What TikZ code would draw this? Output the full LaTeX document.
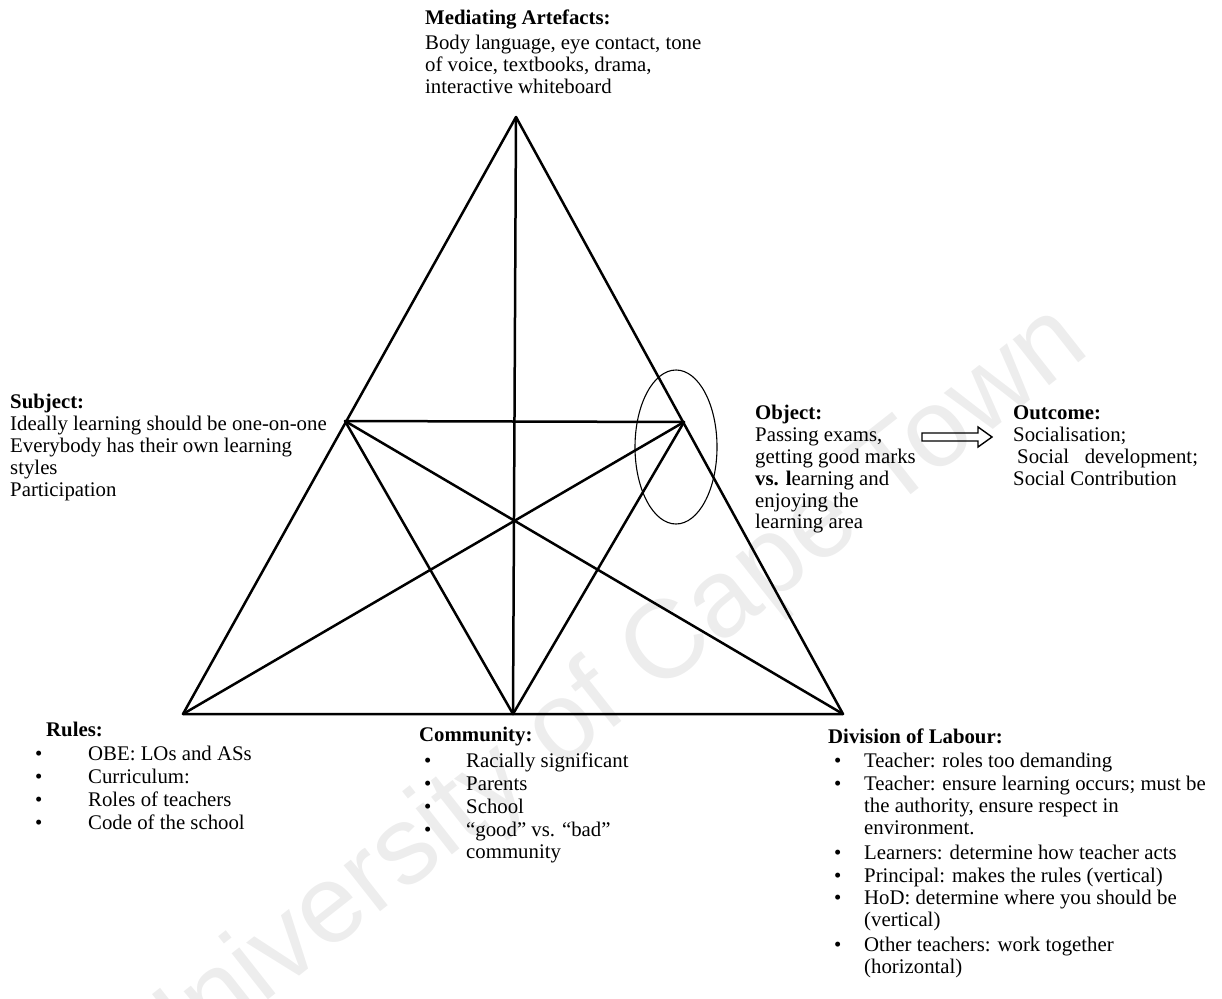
\documentclass[tikz,border=0pt]{standalone}
\usepackage{fontspec}
\setmainfont{Liberation Serif}
\newfontfamily\wmfont{Liberation Sans}
\begin{document}
\begin{tikzpicture}[x=1pt,y=-1pt,
  edge/.style={line width=2.5pt, line join=round, line cap=round},
  txt/.style={anchor=base west, inner sep=0pt, font=\fontsize{20.8}{22}\selectfont},
  hd/.style={anchor=base west, inner sep=0pt, font=\fontsize{20.8}{22}\selectfont\bfseries},
  ]
\useasboundingbox (0,0) rectangle (1222,998);
\begin{scope}
\clip (0,0) rectangle (1222,998);
\node[rotate=38.2, anchor=base east, inner sep=0pt, text=black!7,
  font=\wmfont\fontsize{111}{111}\selectfont] (wm) at (1092,352) {University of Cape Town};
\end{scope}

% vertices
\coordinate (T) at (516,117);
\coordinate (L) at (183,714);
\coordinate (M) at (513,714);
\coordinate (R) at (843,714);
\coordinate (S) at (345,421);
\coordinate (O) at (684,422);

\draw[edge] (T) -- (L) -- (R) -- cycle;
\draw[edge] (T) -- (M);
\draw[edge] (S) -- (O);
\draw[edge] (S) -- (M) -- (O);
\draw[edge] (L) -- (O);
\draw[edge] (S) -- (R);

% ellipse round the object
\draw[line width=1.1pt] (676,447) ellipse [x radius=41, y radius=77];

% outcome arrow
\draw[line width=1.4pt, line join=miter] (922,433) -- (978,433) -- (978,427) -- (992,437) -- (978,447) -- (978,441) -- (922,441) -- cycle;

% Mediating artefacts
\node[hd] (ma) at (425,25) {Mediating Artefacts:};
\node[txt] (ma1) at (425,49) {Body language, eye contact, tone};
\node[txt] (ma2) at (425,71) {of voice, textbooks, drama,};
\node[txt] (ma3) at (425,93) {interactive whiteboard};

% Subject
\node[hd] (su) at (10,408) {Subject:};
\node[txt] (su1) at (10,430) {Ideally learning should be one-on-one};
\node[txt] (su2) at (10,452) {Everybody has their own learning};
\node[txt] (su3) at (10,474) {styles};
\node[txt] (su4) at (10,496) {Participation};

% Object
\node[hd] (ob) at (755,419) {Object:};
\node[txt] (ob1) at (755,441) {Passing exams,};
\node[txt] (ob2) at (755,463) {getting good marks};
\node[txt] (ob3) at (755,485) {\textbf{vs. l}earning and};
\node[txt] (ob4) at (755,507) {enjoying the};
\node[txt] (ob5) at (755,528) {learning area};

% Outcome
\node[hd] (oc) at (1013,419) {Outcome:};
\node[txt] (oc1) at (1013,441) {Socialisation;};
\node[txt] (oc2) at (1017,463) {Social\ \ \ development;};
\node[txt] (oc3) at (1013,485) {Social Contribution};

% Rules
\node[hd] (ru) at (46,736) {Rules:};
\node[txt] (ru1b) at (35,760) {•}; \node[txt] (ru1) at (88,760) {OBE: LOs and ASs};
\node[txt] (ru2b) at (35,783) {•}; \node[txt] (ru2) at (88,783) {Curriculum:};
\node[txt] (ru3b) at (35,806) {•}; \node[txt] (ru3) at (88,806) {Roles of teachers};
\node[txt] (ru4b) at (35,829) {•}; \node[txt] (ru4) at (88,829) {Code of the school};

% Community
\node[hd] (co) at (419,741) {Community:};
\node[txt] (co1b) at (424,767) {•}; \node[txt] (co1) at (466,767) {Racially significant};
\node[txt] (co2b) at (424,790) {•}; \node[txt] (co2) at (466,790) {Parents};
\node[txt] (co3b) at (424,813) {•}; \node[txt] (co3) at (466,813) {School};
\node[txt] (co4b) at (424,836) {•}; \node[txt] (co4) at (466,836) {“good” vs. “bad”};
\node[txt] (co5) at (466,858) {community};

% Division of labour
\node[hd] (dl) at (828,743) {Division of Labour:};
\node[txt] (dl1b) at (834,767) {•}; \node[txt] (dl1) at (864,767) {Teacher: roles too demanding};
\node[txt] (dl2b) at (834,790) {•}; \node[txt] (dl2) at (864,790) {Teacher: ensure learning occurs; must be};
\node[txt] (dl2c) at (864,812) {the authority, ensure respect in};
\node[txt] (dl2d) at (864,834) {environment.};
\node[txt] (dl3b) at (834,859) {•}; \node[txt] (dl3) at (864,859) {Learners: determine how teacher acts};
\node[txt] (dl4b) at (834,882) {•}; \node[txt] (dl4) at (864,882) {Principal: makes the rules (vertical)};
\node[txt] (dl5b) at (834,904) {•}; \node[txt] (dl5) at (864,904) {HoD: determine where you should be};
\node[txt] (dl5c) at (864,926) {(vertical)};
\node[txt] (dl6b) at (834,951) {•}; \node[txt] (dl6) at (864,951) {Other teachers: work together};
\node[txt] (dl6c) at (864,973) {(horizontal)};
\end{tikzpicture}
\end{document}
